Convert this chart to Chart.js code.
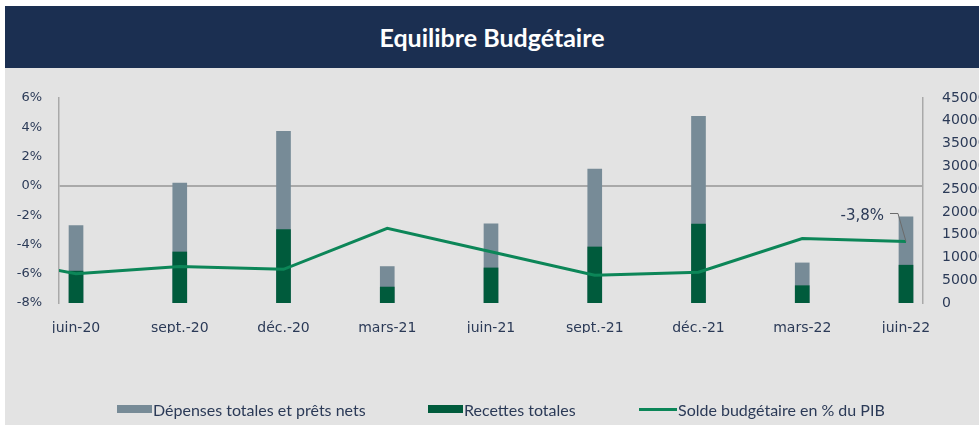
<!DOCTYPE html>
<html>
<head>
<meta charset="utf-8">
<script src="https://cdn.jsdelivr.net/npm/chart.js@4"></script>
<style>
  body { margin: 0; background: #fff; width: 979px; height: 425px; overflow: hidden; position: relative; }
  #frame { position: absolute; left: 5px; top: 6px; right: 0; bottom: 0; background: #e3e3e3; }
  #title { position: absolute; left: 5px; top: 6px; right: 0; height: 62px; background: #1b2f51;
           color: #fff; font: bold 25px Lato, sans-serif; text-align: center; line-height: 62px; }
  #chartBox { position: absolute; left: 0; top: 0; width: 979px; height: 425px; }
  #legend { position: absolute; top: 400px; left: 0; width: 979px; height: 18px;
            font: 16px Lato, sans-serif; color: #2b3a57; }
  .item { position: absolute; top: 0; display: flex; align-items: center; height: 18px; }
  .sw { display: inline-block; margin-right: 1px; }
</style>
</head>
<body>
<div id="frame"></div>
<div id="title">Equilibre Budgétaire</div>
<div id="chartBox"><canvas id="chart"></canvas></div>
<div id="legend">
  <div class="item" style="left:117px"><span class="sw" style="width:35px;height:8px;background:#778b97"></span>Dépenses totales et prêts nets</div>
  <div class="item" style="left:428px"><span class="sw" style="width:35px;height:8px;background:#005b3c"></span>Recettes totales</div>
  <div class="item" style="left:639px"><span class="sw" style="width:38px;height:3px;background:#0c8658"></span>Solde budgétaire en % du PIB</div>
</div>
<script>
// trimestres affichés
const labels = ["juin-20", "sept.-20", "déc.-20", "mars-21", "juin-21", "sept.-21", "déc.-21", "mars-22", "juin-22"];
const depenses = [17000, 26300, 37700, 8000, 17400, 29400, 41000, 8800, 18900];
const recettes = [7000, 11200, 16100, 3500, 7700, 12300, 17300, 3800, 8300];
// solde en % du PIB, premier point = mars-20 (coupé par le bord gauche)
const soldeMars20 = -4.7;
const solde = [-6.0, -5.5, -5.7, -2.9, -4.5, -6.1, -5.9, -3.6, -3.8];
const pctTicks = [-8, -6, -4, -2, 0, 2, 4, 6];
const mntTicks = [0, 5000, 10000, 15000, 20000, 25000, 30000, 35000, 40000, 45000];

const navy = "#2b3a57";
const tickFont = { family: "'DejaVu Sans'", size: 13 };

const lastLabel = {
  id: "lastLabel",
  afterDatasetsDraw(chart) {
    const meta = chart.getDatasetMeta(2);
    const pt = meta.data[meta.data.length - 1];
    const ctx = chart.ctx;
    const v = solde[solde.length - 1];
    ctx.save();
    ctx.strokeStyle = "#6b6b6b";
    ctx.lineWidth = 1;
    ctx.beginPath();
    ctx.moveTo(pt.x - 16, pt.y - 28);
    ctx.lineTo(pt.x - 8, pt.y - 28);
    ctx.lineTo(pt.x, pt.y);
    ctx.stroke();
    ctx.fillStyle = navy;
    ctx.font = "15px 'DejaVu Sans'";
    ctx.textAlign = "right";
    ctx.textBaseline = "middle";
    ctx.fillText(v.toFixed(1).replace(".", ",") + "%", pt.x - 22, pt.y - 25);
    ctx.restore();
  }
};

new Chart(document.getElementById("chart"), {
  data: {
    datasets: [
      {
        type: "bar",
        label: "Dépenses totales et prêts nets",
        data: depenses.map((v, i) => ({ x: i, y: v })),
        backgroundColor: "#778b97",
        yAxisID: "y1",
        barThickness: 14,
        grouped: false,
        order: 2
      },
      {
        type: "bar",
        label: "Recettes totales",
        data: recettes.map((v, i) => ({ x: i, y: v })),
        backgroundColor: "#005b3c",
        yAxisID: "y1",
        barThickness: 14,
        grouped: false,
        order: 1
      },
      {
        type: "line",
        label: "Solde budgétaire en % du PIB",
        data: [{ x: -1, y: soldeMars20 }].concat(solde.map((v, i) => ({ x: i, y: v }))),
        borderColor: "#0c8658",
        borderWidth: 3,
        pointRadius: 0,
        tension: 0,
        yAxisID: "y",
        order: 0
      }
    ]
  },
  options: {
    responsive: true,
    maintainAspectRatio: false,
    animation: false,
    layout: { padding: { top: 98, left: 0, right: 0, bottom: 92 } },
    plugins: { legend: { display: false }, tooltip: { enabled: false } },
    scales: {
      x: {
        type: "linear",
        offset: false,
        min: -0.164,
        max: 8.164,
        afterBuildTicks: s => { s.ticks = labels.map((_, i) => ({ value: i })); },
        afterFit: s => { s.height = 30; },
        grid: { display: false, offset: false },
        border: { display: false },
        ticks: {
          callback: v => labels[v],
          color: navy,
          font: { family: "'DejaVu Sans'", size: 14 },
          padding: 9,
          maxRotation: 0,
          autoSkip: false
        }
      },
      y: {
        position: "left",
        min: -8,
        max: 6,
        afterBuildTicks: s => { s.ticks = pctTicks.map(v => ({ value: v })); },
        afterFit: s => { s.width = 59; },
        grid: {
          drawTicks: false,
          color: c => (c.tick && c.tick.value === 0 ? "#a9a9a9" : "transparent"),
          lineWidth: 2
        },
        border: { display: true, color: "#a9a9a9", width: 1.5 },
        ticks: { callback: v => v + "%", color: navy, font: tickFont, padding: 17 }
      },
      y1: {
        position: "right",
        min: 0,
        max: 45000,
        afterBuildTicks: s => { s.ticks = mntTicks.map(v => ({ value: v })); },
        afterFit: s => { s.width = 56; },
        grid: { display: false, drawTicks: false },
        border: { display: true, color: "#a9a9a9", width: 1.5 },
        ticks: { callback: v => String(v), color: navy, font: { family: "'DejaVu Sans'", size: 14 }, padding: 19 }
      }
    }
  },
  plugins: [lastLabel]
});
</script>
</body>
</html>
